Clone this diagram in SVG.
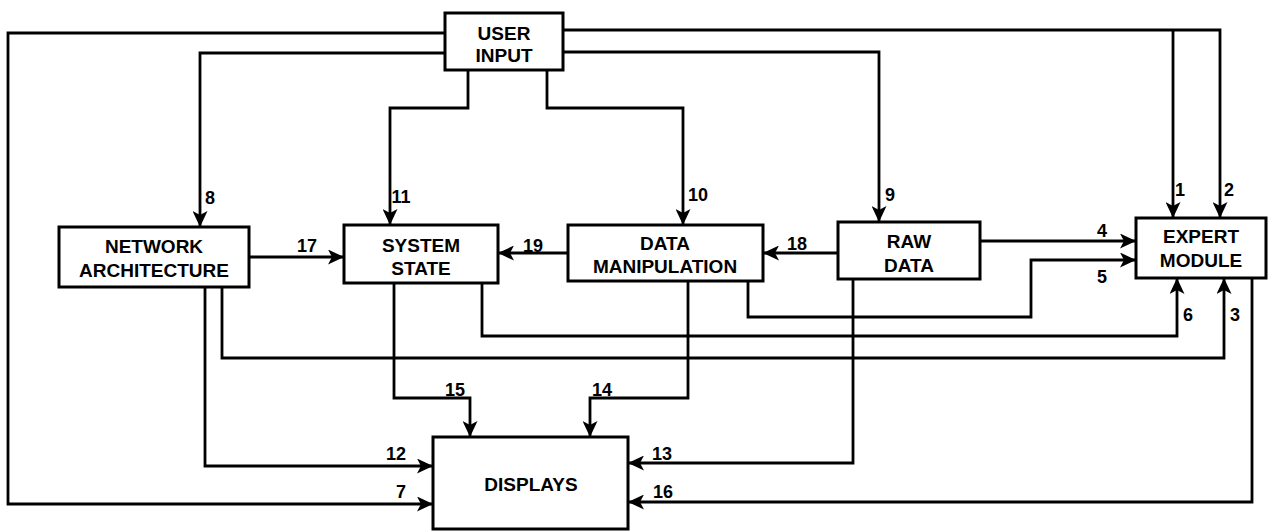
<svg xmlns="http://www.w3.org/2000/svg" width="1268" height="531" viewBox="0 0 1268 531">
<style>
.box{fill:#fff;stroke:#000;stroke-width:3}
.t{font-family:"Liberation Sans",Arial,sans-serif;font-weight:bold;font-size:19px;text-anchor:middle;fill:#000}
.n{font-family:"Liberation Sans",Arial,sans-serif;font-weight:bold;font-size:18px;text-anchor:middle;fill:#000}
.c{fill:none;stroke:#000;stroke-width:2.8;stroke-linejoin:miter}
</style>
<defs>
<marker id="ah" markerUnits="userSpaceOnUse" markerWidth="17" markerHeight="15" refX="16" refY="7.5" orient="auto" viewBox="0 0 17 15">
<path d="M0,0 L16,7.5 L0,15 L4,7.5 z" fill="#000"/>
</marker>
</defs>
<rect width="1268" height="531" fill="#fff"/>
<g id="connectors">
<path class="c" marker-end="url(#ah)" d="M563,30 L1220,30 L1220,218"/>
<path class="c" marker-end="url(#ah)" d="M1173,30 L1173,218"/>
<path class="c" marker-end="url(#ah)" d="M563,52 L879,52 L879,222"/>
<path class="c" marker-end="url(#ah)" d="M547,70 L547,108 L683,108 L683,225"/>
<path class="c" marker-end="url(#ah)" d="M468,70 L468,108 L390,108 L390,225"/>
<path class="c" marker-end="url(#ah)" d="M445,53 L200,53 L200,227"/>
<path class="c" marker-end="url(#ah)" d="M445,33 L8,33 L8,504 L433,504"/>
<path class="c" marker-end="url(#ah)" d="M205,287 L205,466 L433,466"/>
<path class="c" marker-end="url(#ah)" d="M394,283 L394,398 L470,398 L470,437"/>
<path class="c" marker-end="url(#ah)" d="M688,281 L688,398 L590,398 L590,437"/>
<path class="c" marker-end="url(#ah)" d="M853,279 L853,463 L628,463"/>
<path class="c" marker-end="url(#ah)" d="M1252,278 L1252,502 L628,502"/>
<path class="c" marker-end="url(#ah)" d="M249,257 L344,257"/>
<path class="c" marker-end="url(#ah)" d="M568,253 L498,253"/>
<path class="c" marker-end="url(#ah)" d="M838,253 L763,253"/>
<path class="c" marker-end="url(#ah)" d="M980,241 L1136,241"/>
<path class="c" marker-end="url(#ah)" d="M748,281 L748,317 L1031,317 L1031,260 L1136,260"/>
<path class="c" marker-end="url(#ah)" d="M482,283 L482,336 L1177,336 L1177,278"/>
<path class="c" marker-end="url(#ah)" d="M222,287 L222,358 L1224,358 L1224,278"/>
<text class="n" x="1180" y="196">1</text>
<text class="n" x="1229" y="196">2</text>
<text class="n" x="890" y="201">9</text>
<text class="n" x="698" y="201">10</text>
<text class="n" x="401" y="203">11</text>
<text class="n" x="210" y="204">8</text>
<text class="n" x="307" y="252">17</text>
<text class="n" x="533" y="252">19</text>
<text class="n" x="797" y="250">18</text>
<text class="n" x="1102" y="237">4</text>
<text class="n" x="1102" y="283">5</text>
<text class="n" x="1188" y="321">6</text>
<text class="n" x="1235" y="321">3</text>
<text class="n" x="455" y="396">15</text>
<text class="n" x="602" y="396">14</text>
<text class="n" x="396" y="460">12</text>
<text class="n" x="401" y="498">7</text>
<text class="n" x="662" y="460">13</text>
<text class="n" x="663" y="498">16</text>
</g>
<g id="user-input">
<rect class="box" x="445" y="13" width="118" height="57"/>
<text class="t" x="504" y="40">USER</text>
<text class="t" x="504" y="62">INPUT</text>
</g>
<g id="network-architecture">
<rect class="box" x="59" y="227" width="190" height="60"/>
<text class="t" x="154" y="253">NETWORK</text>
<text class="t" x="154" y="277">ARCHITECTURE</text>
</g>
<g id="system-state">
<rect class="box" x="344" y="225" width="154" height="58"/>
<text class="t" x="421" y="252">SYSTEM</text>
<text class="t" x="421" y="275">STATE</text>
</g>
<g id="data-manipulation">
<rect class="box" x="568" y="225" width="195" height="56"/>
<text class="t" x="665" y="250">DATA</text>
<text class="t" x="665" y="273">MANIPULATION</text>
</g>
<g id="raw-data">
<rect class="box" x="838" y="222" width="142" height="57"/>
<text class="t" x="909" y="248">RAW</text>
<text class="t" x="909" y="272">DATA</text>
</g>
<g id="expert-module">
<rect class="box" x="1136" y="218" width="130" height="60"/>
<text class="t" x="1201" y="243">EXPERT</text>
<text class="t" x="1201" y="267">MODULE</text>
</g>
<g id="displays">
<rect class="box" x="433" y="437" width="195" height="92"/>
<text class="t" x="531" y="491">DISPLAYS</text>
</g>
</svg>
